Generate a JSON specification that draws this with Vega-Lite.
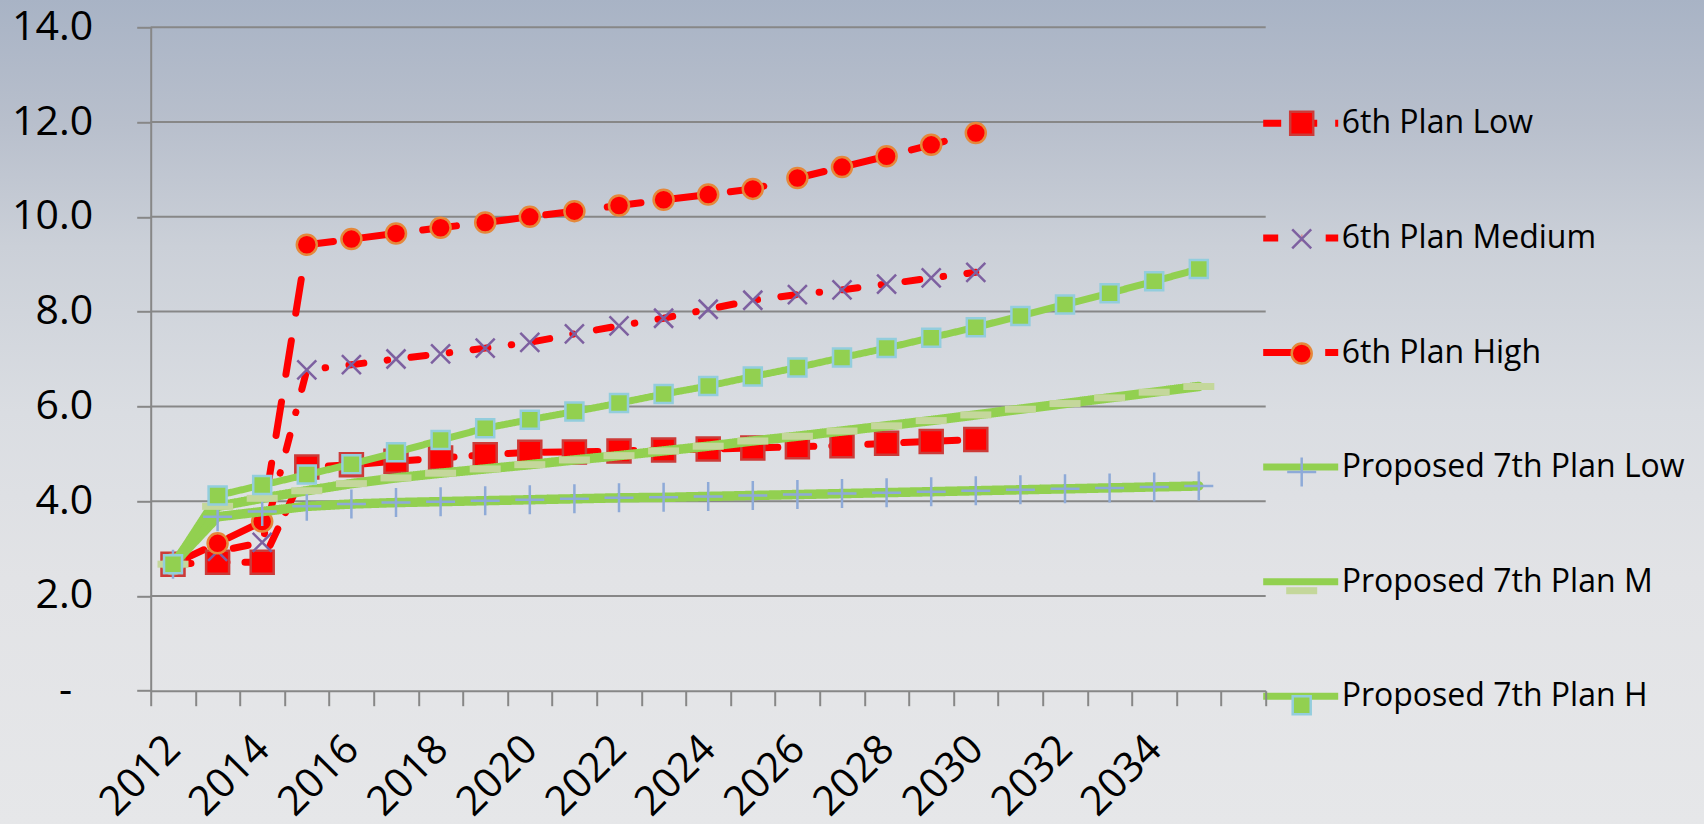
{
  "$schema": "https://vega.github.io/schema/vega-lite/v6.json",
  "width": 1115,
  "height": 663.4,
  "autosize": {"type": "none"},
  "padding": {"left": 150.7, "top": 27.3, "right": 438.3, "bottom": 133.3},
  "background": "#e3e4e7",
  "config": {"view": {"stroke": null}, "font": "Open Sans"},
  "datasets": {
    "grid": [{"g": 2}, {"g": 4}, {"g": 6}, {"g": 8}, {"g": 10}, {"g": 12}, {"g": 14}],
    "plans": [
      {"year": 2012, "series": "6th Plan Low", "value": 2.67},
      {"year": 2013, "series": "6th Plan Low", "value": 2.71},
      {"year": 2014, "series": "6th Plan Low", "value": 2.71},
      {"year": 2015, "series": "6th Plan Low", "value": 4.72},
      {"year": 2016, "series": "6th Plan Low", "value": 4.77},
      {"year": 2017, "series": "6th Plan Low", "value": 4.84},
      {"year": 2018, "series": "6th Plan Low", "value": 4.91},
      {"year": 2019, "series": "6th Plan Low", "value": 4.98},
      {"year": 2020, "series": "6th Plan Low", "value": 5.03},
      {"year": 2021, "series": "6th Plan Low", "value": 5.04},
      {"year": 2022, "series": "6th Plan Low", "value": 5.06},
      {"year": 2023, "series": "6th Plan Low", "value": 5.08},
      {"year": 2024, "series": "6th Plan Low", "value": 5.10},
      {"year": 2025, "series": "6th Plan Low", "value": 5.12},
      {"year": 2026, "series": "6th Plan Low", "value": 5.15},
      {"year": 2027, "series": "6th Plan Low", "value": 5.17},
      {"year": 2028, "series": "6th Plan Low", "value": 5.22},
      {"year": 2029, "series": "6th Plan Low", "value": 5.26},
      {"year": 2030, "series": "6th Plan Low", "value": 5.30},
      {"year": 2012, "series": "6th Plan Medium", "value": 2.67},
      {"year": 2013, "series": "6th Plan Medium", "value": 2.94},
      {"year": 2014, "series": "6th Plan Medium", "value": 3.13},
      {"year": 2015, "series": "6th Plan Medium", "value": 6.77},
      {"year": 2016, "series": "6th Plan Medium", "value": 6.88},
      {"year": 2017, "series": "6th Plan Medium", "value": 7.00},
      {"year": 2018, "series": "6th Plan Medium", "value": 7.11},
      {"year": 2019, "series": "6th Plan Medium", "value": 7.23},
      {"year": 2020, "series": "6th Plan Medium", "value": 7.35},
      {"year": 2021, "series": "6th Plan Medium", "value": 7.53},
      {"year": 2022, "series": "6th Plan Medium", "value": 7.70},
      {"year": 2023, "series": "6th Plan Medium", "value": 7.86},
      {"year": 2024, "series": "6th Plan Medium", "value": 8.05},
      {"year": 2025, "series": "6th Plan Medium", "value": 8.24},
      {"year": 2026, "series": "6th Plan Medium", "value": 8.36},
      {"year": 2027, "series": "6th Plan Medium", "value": 8.46},
      {"year": 2028, "series": "6th Plan Medium", "value": 8.58},
      {"year": 2029, "series": "6th Plan Medium", "value": 8.71},
      {"year": 2030, "series": "6th Plan Medium", "value": 8.83},
      {"year": 2012, "series": "6th Plan High", "value": 2.67},
      {"year": 2013, "series": "6th Plan High", "value": 3.11},
      {"year": 2014, "series": "6th Plan High", "value": 3.57},
      {"year": 2015, "series": "6th Plan High", "value": 9.41},
      {"year": 2016, "series": "6th Plan High", "value": 9.53},
      {"year": 2017, "series": "6th Plan High", "value": 9.65},
      {"year": 2018, "series": "6th Plan High", "value": 9.77},
      {"year": 2019, "series": "6th Plan High", "value": 9.88},
      {"year": 2020, "series": "6th Plan High", "value": 10.00},
      {"year": 2021, "series": "6th Plan High", "value": 10.12},
      {"year": 2022, "series": "6th Plan High", "value": 10.24},
      {"year": 2023, "series": "6th Plan High", "value": 10.36},
      {"year": 2024, "series": "6th Plan High", "value": 10.47},
      {"year": 2025, "series": "6th Plan High", "value": 10.59},
      {"year": 2026, "series": "6th Plan High", "value": 10.82},
      {"year": 2027, "series": "6th Plan High", "value": 11.05},
      {"year": 2028, "series": "6th Plan High", "value": 11.28},
      {"year": 2029, "series": "6th Plan High", "value": 11.52},
      {"year": 2030, "series": "6th Plan High", "value": 11.77},
      {"year": 2012, "series": "Proposed 7th Plan Low", "value": 2.67},
      {"year": 2013, "series": "Proposed 7th Plan Low", "value": 3.67},
      {"year": 2014, "series": "Proposed 7th Plan Low", "value": 3.78},
      {"year": 2015, "series": "Proposed 7th Plan Low", "value": 3.89},
      {"year": 2016, "series": "Proposed 7th Plan Low", "value": 3.94},
      {"year": 2017, "series": "Proposed 7th Plan Low", "value": 3.97},
      {"year": 2018, "series": "Proposed 7th Plan Low", "value": 3.99},
      {"year": 2019, "series": "Proposed 7th Plan Low", "value": 4.01},
      {"year": 2020, "series": "Proposed 7th Plan Low", "value": 4.03},
      {"year": 2021, "series": "Proposed 7th Plan Low", "value": 4.05},
      {"year": 2022, "series": "Proposed 7th Plan Low", "value": 4.07},
      {"year": 2023, "series": "Proposed 7th Plan Low", "value": 4.08},
      {"year": 2024, "series": "Proposed 7th Plan Low", "value": 4.10},
      {"year": 2025, "series": "Proposed 7th Plan Low", "value": 4.12},
      {"year": 2026, "series": "Proposed 7th Plan Low", "value": 4.14},
      {"year": 2027, "series": "Proposed 7th Plan Low", "value": 4.16},
      {"year": 2028, "series": "Proposed 7th Plan Low", "value": 4.18},
      {"year": 2029, "series": "Proposed 7th Plan Low", "value": 4.20},
      {"year": 2030, "series": "Proposed 7th Plan Low", "value": 4.22},
      {"year": 2031, "series": "Proposed 7th Plan Low", "value": 4.24},
      {"year": 2032, "series": "Proposed 7th Plan Low", "value": 4.26},
      {"year": 2033, "series": "Proposed 7th Plan Low", "value": 4.28},
      {"year": 2034, "series": "Proposed 7th Plan Low", "value": 4.30},
      {"year": 2035, "series": "Proposed 7th Plan Low", "value": 4.32},
      {"year": 2012, "series": "Proposed 7th Plan M", "value": 2.67},
      {"year": 2013, "series": "Proposed 7th Plan M", "value": 3.89},
      {"year": 2014, "series": "Proposed 7th Plan M", "value": 4.06},
      {"year": 2015, "series": "Proposed 7th Plan M", "value": 4.22},
      {"year": 2016, "series": "Proposed 7th Plan M", "value": 4.37},
      {"year": 2017, "series": "Proposed 7th Plan M", "value": 4.49},
      {"year": 2018, "series": "Proposed 7th Plan M", "value": 4.59},
      {"year": 2019, "series": "Proposed 7th Plan M", "value": 4.68},
      {"year": 2020, "series": "Proposed 7th Plan M", "value": 4.77},
      {"year": 2021, "series": "Proposed 7th Plan M", "value": 4.87},
      {"year": 2022, "series": "Proposed 7th Plan M", "value": 4.96},
      {"year": 2023, "series": "Proposed 7th Plan M", "value": 5.06},
      {"year": 2024, "series": "Proposed 7th Plan M", "value": 5.16},
      {"year": 2025, "series": "Proposed 7th Plan M", "value": 5.27},
      {"year": 2026, "series": "Proposed 7th Plan M", "value": 5.37},
      {"year": 2027, "series": "Proposed 7th Plan M", "value": 5.48},
      {"year": 2028, "series": "Proposed 7th Plan M", "value": 5.59},
      {"year": 2029, "series": "Proposed 7th Plan M", "value": 5.70},
      {"year": 2030, "series": "Proposed 7th Plan M", "value": 5.82},
      {"year": 2031, "series": "Proposed 7th Plan M", "value": 5.94},
      {"year": 2032, "series": "Proposed 7th Plan M", "value": 6.06},
      {"year": 2033, "series": "Proposed 7th Plan M", "value": 6.18},
      {"year": 2034, "series": "Proposed 7th Plan M", "value": 6.30},
      {"year": 2035, "series": "Proposed 7th Plan M", "value": 6.42},
      {"year": 2012, "series": "Proposed 7th Plan H", "value": 2.67},
      {"year": 2013, "series": "Proposed 7th Plan H", "value": 4.12},
      {"year": 2014, "series": "Proposed 7th Plan H", "value": 4.34},
      {"year": 2015, "series": "Proposed 7th Plan H", "value": 4.56},
      {"year": 2016, "series": "Proposed 7th Plan H", "value": 4.78},
      {"year": 2017, "series": "Proposed 7th Plan H", "value": 5.03},
      {"year": 2018, "series": "Proposed 7th Plan H", "value": 5.29},
      {"year": 2019, "series": "Proposed 7th Plan H", "value": 5.54},
      {"year": 2020, "series": "Proposed 7th Plan H", "value": 5.72},
      {"year": 2021, "series": "Proposed 7th Plan H", "value": 5.89},
      {"year": 2022, "series": "Proposed 7th Plan H", "value": 6.07},
      {"year": 2023, "series": "Proposed 7th Plan H", "value": 6.26},
      {"year": 2024, "series": "Proposed 7th Plan H", "value": 6.43},
      {"year": 2025, "series": "Proposed 7th Plan H", "value": 6.63},
      {"year": 2026, "series": "Proposed 7th Plan H", "value": 6.82},
      {"year": 2027, "series": "Proposed 7th Plan H", "value": 7.03},
      {"year": 2028, "series": "Proposed 7th Plan H", "value": 7.23},
      {"year": 2029, "series": "Proposed 7th Plan H", "value": 7.45},
      {"year": 2030, "series": "Proposed 7th Plan H", "value": 7.67},
      {"year": 2031, "series": "Proposed 7th Plan H", "value": 7.91},
      {"year": 2032, "series": "Proposed 7th Plan H", "value": 8.15},
      {"year": 2033, "series": "Proposed 7th Plan H", "value": 8.39},
      {"year": 2034, "series": "Proposed 7th Plan H", "value": 8.64},
      {"year": 2035, "series": "Proposed 7th Plan H", "value": 8.90}
    ]
  },
  "layer": [
    {
      "data": {"values": [{}]},
      "mark": {
        "type": "rect",
        "clip": false,
        "fill": {
          "gradient": "linear", "x1": 0, "y1": 0, "x2": 0, "y2": 1,
          "stops": [
            {"offset": 0, "color": "#a8b3c5"},
            {"offset": 0.15, "color": "#b8bfcc"},
            {"offset": 0.3, "color": "#cbd0d8"},
            {"offset": 0.5, "color": "#dadde2"},
            {"offset": 0.7, "color": "#e2e3e6"},
            {"offset": 1, "color": "#e6e7e9"}
          ]
        }
      },
      "encoding": {
        "x": {"datum": 2008.0, "type": "quantitative", "title": null},
        "x2": {"datum": 2046.5},
        "y": {"datum": 14.6, "type": "quantitative", "title": null},
        "y2": {"datum": -2.85}
      }
    },
    {
      "data": {"name": "grid"},
      "mark": {"type": "rule", "color": "#878787", "strokeWidth": 2},
      "encoding": {
        "y": {"field": "g", "type": "quantitative", "title": null}
      }
    },
    {
      "data": {"name": "plans"},
      "transform": [{"filter": "indexof(datum.series, '6th') == 0"}],
      "mark": {"type": "line", "strokeWidth": 7, "strokeCap": "round", "strokeJoin": "round"},
      "encoding": {
        "x": {
          "field": "year", "type": "quantitative",
          "scale": {"domain": [2011.5, 2036.5], "nice": false, "zero": false},
          "axis": {
            "title": null,
            "values": [2011.5, 2012.5, 2013.5, 2014.5, 2015.5, 2016.5, 2017.5, 2018.5, 2019.5, 2020.5, 2021.5, 2022.5, 2023.5, 2024.5, 2025.5, 2026.5, 2027.5, 2028.5, 2029.5, 2030.5, 2031.5, 2032.5, 2033.5, 2034.5, 2035.5, 2036.5],
            "labelExpr": "((datum.value + 0.5) % 2 == 0 && datum.value < 2035) ? format(datum.value + 0.5, 'd') : ''",
            "labelAngle": -45,
            "labelAlign": "right",
            "labelBaseline": "middle",
            "labelOffset": 23,
            "labelPadding": 37,
            "labelFont": "Open Sans",
            "labelFontSize": 41,
            "labelColor": "#000000",
            "labelOverlap": false,
            "labelFlush": false,
            "labelBound": false,
            "tickSize": 15,
            "tickWidth": 2,
            "tickColor": "#878787",
            "domainColor": "#878787",
            "domainWidth": 2,
            "grid": false,
            "zindex": 1
          }
        },
        "y": {
          "field": "value", "type": "quantitative",
          "scale": {"domain": [0, 14], "nice": false, "zero": false},
          "axis": {
            "title": null,
            "values": [0, 2, 4, 6, 8, 10, 12, 14],
            "labelExpr": "datum.value == 0 ? '-' : format(datum.value, '.1f')",
            "labelFont": "Open Sans",
            "labelFontSize": 41,
            "labelColor": "#000000",
            "labelPadding": {"condition": {"test": "datum.value == 0", "value": 65}, "value": 44},
            "labelBaseline": "middle",
            "tickSize": 14,
            "tickWidth": 2,
            "tickColor": "#878787",
            "domainColor": "#878787",
            "domainWidth": 2,
            "grid": false,
            "zindex": 1
          }
        },
        "color": {
          "field": "series", "type": "nominal",
          "scale": {
            "domain": ["6th Plan Low", "6th Plan Medium", "6th Plan High", "Proposed 7th Plan Low", "Proposed 7th Plan M", "Proposed 7th Plan H", "_"],
            "range": ["#ff0000", "#ff0000", "#ff0000", "#92d050", "#92d050", "#92d050", "#000000"]
          },
          "legend": {
            "orient": "none", "legendX": 1109, "legendY": 55, "title": null,
            "values": ["6th Plan Low", "6th Plan Medium", "6th Plan High", "Proposed 7th Plan Low", "Proposed 7th Plan M", "Proposed 7th Plan H"],
            "symbolType": "stroke", "symbolSize": 5625, "symbolStrokeWidth": 7,
            "labelFont": "Open Sans", "labelFontSize": 32, "labelColor": "#000000",
            "labelOffset": 0, "rowPadding": 57.6, "padding": 0, "labelLimit": 500
          }
        },
        "strokeDash": {
          "field": "series", "type": "nominal",
          "scale": {
            "domain": ["6th Plan Low", "6th Plan Medium", "6th Plan High", "Proposed 7th Plan Low", "Proposed 7th Plan M", "Proposed 7th Plan H", "_"],
            "range": [[18, 18], [15, 23.5, 0.5, 23.5], [34, 28], [1, 0], [1, 0], [1, 0], [1, 0]]
          },
          "legend": {
            "orient": "none", "legendX": 1109, "legendY": 55, "title": null,
            "values": ["6th Plan Low", "6th Plan Medium", "6th Plan High", "Proposed 7th Plan Low", "Proposed 7th Plan M", "Proposed 7th Plan H"],
            "symbolType": "stroke", "symbolSize": 5625, "symbolStrokeWidth": 7,
            "labelFont": "Open Sans", "labelFontSize": 32, "labelColor": "#000000",
            "labelOffset": 0, "rowPadding": 57.6, "padding": 0, "labelLimit": 500
          }
        }
      }
    },
    {
      "data": {"name": "plans"},
      "transform": [{"filter": "indexof(datum.series, '6th') == 0"}],
      "mark": {"type": "point", "filled": true, "opacity": 1, "size": 400, "strokeWidth": 2.5},
      "encoding": {
        "x": {"field": "year", "type": "quantitative", "title": null},
        "y": {"field": "value", "type": "quantitative", "title": null},
        "shape": {
          "field": "series", "type": "nominal",
          "scale": {
            "domain": ["6th Plan Low", "6th Plan Medium", "6th Plan High", "Proposed 7th Plan Low", "Proposed 7th Plan M", "Proposed 7th Plan H"],
            "range": ["M-1.15,-1.15H1.15V1.15H-1.15Z", "M-0.95,-0.95L0.95,0.95M-0.95,0.95L0.95,-0.95", "circle", "M-1.45,0H1.45M0,-1.45V1.45", "M-1.55,-0.35H1.55V0.35H-1.55Z", "M-0.9,-0.9H0.9V0.9H-0.9Z"]
          },
          "legend": {
            "orient": "none", "legendX": 1135, "legendY": 80, "title": null,
            "symbolSize": 400, "symbolStrokeWidth": 2.5,
            "labelFont": "Open Sans", "labelFontSize": 32, "labelExpr": "''",
            "labelOffset": 5, "rowPadding": 82.6, "padding": 0
          }
        },
        "fill": {
          "field": "series", "type": "nominal",
          "scale": {
            "domain": ["6th Plan Low", "6th Plan Medium", "6th Plan High", "Proposed 7th Plan Low", "Proposed 7th Plan M", "Proposed 7th Plan H"],
            "range": ["#ff0000", "transparent", "#ff0000", "transparent", "#c4d79b", "#92d050"]
          },
          "legend": {
            "orient": "none", "legendX": 1135, "legendY": 80, "title": null,
            "symbolSize": 400, "symbolStrokeWidth": 2.5,
            "labelFont": "Open Sans", "labelFontSize": 32, "labelExpr": "''",
            "labelOffset": 5, "rowPadding": 82.6, "padding": 0
          }
        },
        "stroke": {
          "field": "series", "type": "nominal",
          "scale": {
            "domain": ["6th Plan Low", "6th Plan Medium", "6th Plan High", "Proposed 7th Plan Low", "Proposed 7th Plan M", "Proposed 7th Plan H"],
            "range": ["#cc3b38", "#7d60a0", "#e5883a", "#8eaad8", "transparent", "#93cddd"]
          },
          "legend": {
            "orient": "none", "legendX": 1135, "legendY": 80, "title": null,
            "symbolSize": 400, "symbolStrokeWidth": 2.5,
            "labelFont": "Open Sans", "labelFontSize": 32, "labelExpr": "''",
            "labelOffset": 5, "rowPadding": 82.6, "padding": 0
          }
        }
      }
    },
    {
      "data": {"name": "plans"},
      "transform": [{"filter": "datum.series == 'Proposed 7th Plan Low' || datum.series == 'Proposed 7th Plan M'"}],
      "mark": {"type": "line", "strokeWidth": 9.5, "strokeCap": "round", "strokeJoin": "round"},
      "encoding": {
        "x": {"field": "year", "type": "quantitative", "title": null},
        "y": {"field": "value", "type": "quantitative", "title": null},
        "color": {"field": "series", "type": "nominal"},
        "strokeDash": {"field": "series", "type": "nominal"}
      }
    },
    {
      "data": {"name": "plans"},
      "transform": [{"filter": "datum.series == 'Proposed 7th Plan H'"}],
      "mark": {"type": "line", "strokeWidth": 7, "strokeCap": "round", "strokeJoin": "round"},
      "encoding": {
        "x": {"field": "year", "type": "quantitative", "title": null},
        "y": {"field": "value", "type": "quantitative", "title": null},
        "color": {"field": "series", "type": "nominal"},
        "strokeDash": {"field": "series", "type": "nominal"}
      }
    },
    {
      "data": {"name": "plans"},
      "transform": [{"filter": "indexof(datum.series, 'Proposed') == 0"}],
      "mark": {"type": "point", "filled": true, "opacity": 1, "size": 400, "strokeWidth": 2.5},
      "encoding": {
        "x": {"field": "year", "type": "quantitative", "title": null},
        "y": {"field": "value", "type": "quantitative", "title": null},
        "shape": {"field": "series", "type": "nominal"},
        "fill": {"field": "series", "type": "nominal"},
        "stroke": {"field": "series", "type": "nominal"}
      }
    }
  ]
}
